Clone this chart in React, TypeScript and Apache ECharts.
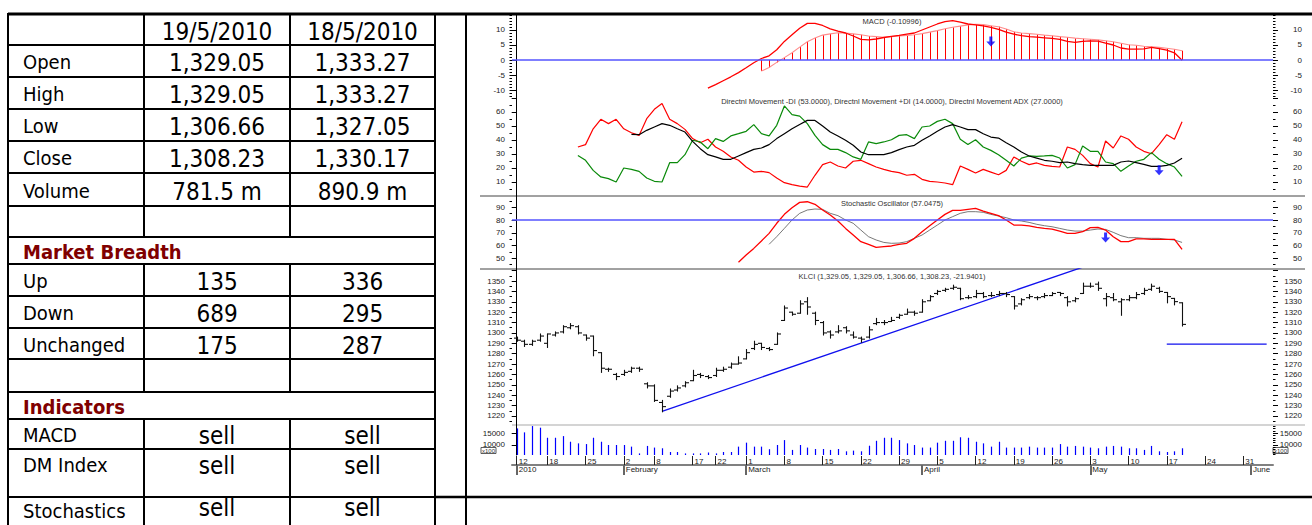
import React, { useEffect, useRef } from 'react';
import * as echarts from 'echarts';

// ---------------- table data ----------------
const tableDates = ['19/5/2010', '18/5/2010'];
const priceLabels = ['Open', 'High', 'Low', 'Close', 'Volume'];
const price19 = ['1,329.05', '1,329.05', '1,306.66', '1,308.23', '781.5 m'];
const price18 = ['1,333.27', '1,333.27', '1,327.05', '1,330.17', '890.9 m'];
const breadthTitle = 'Market Breadth';
const breadthLabels = ['Up', 'Down', 'Unchanged'];
const breadth19 = ['135', '689', '175'];
const breadth18 = ['336', '295', '287'];
const indicatorTitle = 'Indicators';
const indicatorLabels = ['MACD', 'DM Index', 'Stochastics'];
const indicator19 = ['sell', 'sell', 'sell'];
const indicator18 = ['sell', 'sell', 'sell'];

// ---------------- x axis (trading-day index) ----------------
const dayTickIdx = [0, 4, 9, 14, 18, 23, 26, 30, 35, 40, 45, 50, 55, 60, 65, 70, 75, 80, 85, 90, 95];
const dayTickLbl = ['12', '18', '25', '2', '8', '17', '22', '1', '8', '15', '22', '29', '5', '12', '19', '26', '3', '10', '17', '24', '31'];
const monthTickIdx = [0, 14, 30, 53, 75, 96];
const monthTickLbl = ['2010', 'February', 'March', 'April', 'May', 'June'];

// ---------------- KLCI OHLC (index 0 = 12 Jan 2010) ----------------
const klciOpen = [1295, 1292, 1289, 1293, 1290, 1298, 1301, 1305, 1306, 1298, 1297, 1281, 1265, 1260, 1260, 1263, 1266, 1251, 1249, 1233, 1239, 1245, 1249, 1254, 1260, 1258, 1259, 1264, 1267, 1270, 1275, 1285, 1290, 1285, 1289, 1312, 1320, 1319, 1330, 1319, 1310, 1301, 1301, 1305, 1298, 1295, 1296, 1309, 1310, 1311, 1315, 1318, 1320, 1320, 1331, 1338, 1341, 1343, 1343, 1334, 1335, 1338, 1336, 1337, 1338, 1335, 1328, 1334, 1334, 1335, 1336, 1339, 1334, 1331, 1338, 1345, 1347, 1333, 1334, 1330, 1332, 1334, 1338, 1342, 1343, 1339, 1333.27, 1329.05];
const klciHigh = [1296, 1293, 1293, 1299, 1299, 1301, 1307, 1309, 1307, 1298, 1297, 1281, 1266, 1261, 1264, 1267, 1267, 1252, 1250, 1235, 1246, 1249, 1253, 1264, 1261, 1259, 1266, 1267, 1271, 1277, 1284, 1292, 1290, 1286, 1300, 1326, 1320, 1331, 1334, 1320, 1311, 1302, 1307, 1306, 1301, 1296, 1306, 1314, 1312, 1315, 1318, 1323, 1321, 1332, 1336, 1341, 1343, 1346, 1343, 1336, 1341, 1339, 1339, 1340, 1339, 1335, 1333, 1337, 1335, 1338, 1339, 1339, 1335, 1334, 1348, 1348, 1349, 1338, 1338, 1333, 1336, 1339, 1343, 1347, 1344, 1339, 1333.27, 1329.05];
const klciLow = [1292, 1287, 1288, 1292, 1286, 1297, 1300, 1304, 1299, 1293, 1278, 1262, 1263, 1255, 1259, 1262, 1263, 1247, 1234, 1224, 1238, 1244, 1248, 1254, 1257, 1256, 1258, 1263, 1266, 1270, 1275, 1284, 1284, 1283, 1289, 1312, 1317, 1319, 1318, 1308, 1298, 1295, 1300, 1300, 1295, 1291, 1295, 1308, 1308, 1311, 1314, 1318, 1317, 1320, 1331, 1337, 1340, 1342, 1332, 1333, 1334, 1334, 1335, 1336, 1335, 1323, 1327, 1333, 1332, 1334, 1336, 1336, 1326, 1330, 1338, 1344, 1341, 1326, 1331, 1317, 1331, 1333, 1337, 1341, 1339, 1329, 1327.05, 1306.66];
const klciClose = [1293, 1289, 1292, 1297, 1299, 1300, 1306, 1307, 1300, 1295, 1283, 1266, 1265, 1258, 1262, 1266, 1265, 1249, 1235, 1229, 1244, 1247, 1252, 1259, 1259, 1257, 1264, 1265, 1270, 1271, 1281, 1289, 1286, 1284, 1299, 1324, 1318, 1328, 1325, 1312, 1300, 1298, 1302, 1302, 1296, 1294, 1303, 1310, 1310, 1312, 1317, 1320, 1319, 1330, 1335, 1340, 1342, 1344, 1333, 1334, 1338, 1335, 1336, 1338, 1337, 1326, 1332, 1335, 1334, 1336, 1338, 1338, 1330, 1333, 1345, 1345, 1343, 1335, 1332, 1332, 1334, 1337, 1341, 1345, 1340, 1335, 1330.17, 1308.23];
// volume (x100)
const volume = [17100, 15400, 18100, 17400, 13100, 13100, 13800, 11400, 10700, 10400, 13100, 11400, 10000, 10000, 10000, 9300, 6400, 9600, 8900, 8600, 7000, 7000, 6400, 6400, 6400, 6800, 6400, 7000, 7000, 9300, 11000, 9300, 9300, 8200, 10000, 12100, 7900, 10000, 8900, 8300, 8300, 7900, 8300, 7300, 7600, 7300, 9700, 11800, 13100, 13100, 12100, 10700, 10000, 8900, 8900, 11000, 11800, 11800, 13300, 13100, 11400, 10700, 9300, 11400, 8900, 8900, 8900, 9300, 8900, 8900, 8900, 10400, 9300, 9600, 9300, 8900, 8600, 9300, 9600, 9300, 8600, 8600, 7900, 9600, 7300, 7000, 7300, 8600];

// ---------------- MACD ----------------
const macdStart = 25;
const macdLine = [-9.4, -8.2, -6.9, -5.6, -4.2, -2.6, -0.9, 0.5, 1.4, 3.4, 6.2, 8.4, 10.6, 12.2, 12.2, 11.5, 10.4, 9.6, 9.0, 8.0, 6.9, 6.7, 7.0, 7.5, 7.9, 8.2, 8.6, 9.0, 10.0, 11.0, 12.0, 12.8, 13.1, 12.6, 12.0, 11.7, 11.4, 10.9, 10.2, 9.3, 8.6, 8.1, 7.8, 7.6, 7.4, 7.2, 6.9, 6.2, 5.9, 6.2, 6.4, 6.3, 5.6, 5.0, 4.0, 3.6, 3.6, 3.7, 4.2, 3.8, 3.3, 2.4, -0.11];
const signalStart = 32;
const signalLine = [-3.7, -2.5, -0.8, 0.8, 2.4, 4.3, 6.1, 7.3, 8.3, 8.7, 9.1, 9.0, 8.7, 8.4, 8.0, 7.8, 7.6, 7.8, 8.0, 8.2, 8.4, 8.8, 9.3, 9.8, 10.4, 10.9, 11.3, 11.7, 11.9, 11.8, 11.4, 11.1, 10.3, 9.4, 9.0, 8.8, 8.6, 8.3, 8.1, 7.8, 7.6, 7.3, 7.1, 6.9, 6.7, 6.4, 6.1, 5.6, 5.1, 4.9, 4.6, 4.4, 4.2, 3.9, 3.6, 3.1];

// ---------------- Directional movement ----------------
const dmiStart = 8;
const minusDI = [35, 36.7, 48, 54.8, 51.7, 54.8, 48, 45.2, 43.3, 55.2, 61.9, 66, 54.8, 51.7, 47.6, 41, 38, 40.5, 35, 31.9, 27.9, 25.5, 20.7, 17.1, 17.6, 16.7, 12.9, 9.5, 8.1, 7.1, 6.4, 14.8, 22.4, 24.3, 21.4, 20, 24.8, 25.5, 23.1, 20.7, 19, 17.6, 16.7, 14.8, 15.5, 11.9, 10.5, 10, 9.3, 8.1, 21.4, 19, 16.4, 19, 17.1, 15.2, 18.3, 27.9, 24.8, 22.4, 23.6, 21.9, 21.2, 20.7, 35, 33.3, 29, 23.1, 20.7, 39.3, 34.3, 42.9, 40.5, 35, 31.9, 30.2, 36.7, 43.8, 40.5, 53];
const plusDI = [29, 25.5, 18.3, 13.6, 12.4, 10, 20, 19, 17.6, 12.9, 10.5, 10, 23.8, 23.8, 29.5, 39.8, 38.6, 33.8, 41, 39, 42.9, 44.5, 46.2, 51, 44.5, 42.9, 50.5, 64.3, 58.1, 57.1, 51.7, 43.3, 36.7, 33.3, 33.3, 31, 27.9, 26.2, 38.6, 37.4, 38.6, 40.2, 43.3, 43.8, 41, 49.3, 50, 53.3, 54.8, 51.7, 40.5, 36.7, 40.2, 35, 32.6, 29.5, 25.5, 21.4, 27.1, 28.6, 28.3, 28.6, 29, 27.1, 20, 22.4, 35.7, 31.9, 31.9, 24.3, 23.1, 17.6, 21.4, 24.8, 26.2, 31, 26.2, 23.1, 20.7, 14];
const adxStart = 15;
const adx = [44, 43.8, 46.9, 49.3, 51.7, 50.5, 48, 45.7, 39, 33.8, 29.5, 27.9, 26.2, 26.2, 28.6, 31, 33.3, 34.3, 36.7, 41, 44.5, 48, 51, 54, 54, 50, 45.7, 42.9, 39.8, 36.2, 31.4, 29.5, 29.5, 29.5, 31, 33.1, 35, 36.2, 39.8, 42.9, 46.2, 49.3, 51, 49.3, 47.4, 47.4, 44.5, 42.1, 41.4, 38.1, 35, 31.4, 28.6, 27.1, 25.5, 24.8, 23.8, 24.3, 23.1, 22.4, 21.9, 21.9, 21.9, 21.9, 24.3, 25, 23.8, 22.6, 21.2, 21.2, 21.9, 23.6, 27];

// ---------------- Stochastic ----------------
const stochKStart = 29;
const stochK = [46.9, 52.6, 57.8, 63.6, 69.6, 77.5, 84.5, 89.7, 93.9, 94.4, 92.4, 87.9, 84, 79.3, 73.5, 68.3, 63.1, 61, 58.6, 59.2, 59.7, 61, 61.8, 65.7, 70.9, 75.6, 80.1, 84.5, 87.6, 87.6, 88.4, 89.2, 87.1, 85.3, 83.5, 80.1, 76.1, 76.1, 75.4, 74.3, 73.5, 73, 71.4, 69.6, 69.6, 70.9, 74.1, 74.3, 72.2, 67, 63.1, 63.1, 65.2, 65.2, 64.9, 64.9, 64.9, 64.9, 57.05];
const stochDStart = 33;
const stochD = [61, 67, 73.5, 80.1, 85.3, 87.9, 88.7, 88.4, 85.3, 83.5, 80.1, 77.5, 72.2, 67, 64.4, 62.5, 61.8, 62, 63.1, 65.7, 68.3, 72.2, 76.1, 80.1, 82.7, 85.3, 86.6, 86.6, 86.1, 84.5, 83.2, 81.9, 80.1, 79.3, 78.2, 76.7, 75.6, 74.8, 73.5, 72.2, 71.4, 71.4, 72.2, 73, 72.7, 70.4, 67.8, 66.2, 66.2, 65.7, 65.7, 65.7, 64.9, 64.4, 62.5];

// ---------------- annotations ----------------
const macdArrow = [62, 6.2];
const dmiArrow = [84, 18.4];
const stochArrow = [77, 66.4];
const trendX = [19, 80];
const trendY = [1224.5, 1378.5];
const supportX = [85, 98.06];
const supportY = 1289.3;
const macdLevel = 0;
const stochLevel = 80;

// ---------------- axis ticks ----------------
const macdTicks = [-10, -5, 0, 5, 10];
const macdMinor = [-12, -11, -10, -9, -8, -7, -6, -5, -4, -3, -2, -1, 0, 1, 2, 3, 4, 5, 6, 7, 8, 9, 10, 11, 12, 13, 14, 15];
const dmiTicks = [10, 20, 30, 40, 50, 60, 70];
const dmiLabels = [10, 20, 30, 40, 50, 60];
const dmiMinor = [5, 15, 25, 35, 45, 55, 65];
const stochTicks = [50, 60, 70, 80, 90];
const stochMinor = [45, 55, 65, 75, 85, 95];
const klciTicks = [1220, 1230, 1240, 1250, 1260, 1270, 1280, 1290, 1300, 1310, 1320, 1330, 1340, 1350, 1360];
const klciLabels = [1220, 1230, 1240, 1250, 1260, 1270, 1280, 1290, 1300, 1310, 1320, 1330, 1340, 1350];
const klciMinor = [1215, 1225, 1235, 1245, 1255, 1265, 1275, 1285, 1295, 1305, 1315, 1325, 1335, 1345, 1355];
const volTicks = [10000, 15000];
const volMinor = [6000, 7000, 8000, 9000, 10000, 11000, 12000, 13000, 14000, 15000, 16000, 17000, 18000];

const macdTitle = 'MACD (-0.10996)';
const dmiTitle = 'Directnl Movement -DI (53.0000), Directnl Movement +DI (14.0000), Directnl Movement ADX (27.0000)';
const stochTitle = 'Stochastic Oscillator (57.0475)';
const klciTitle = 'KLCI (1,329.05, 1,329.05, 1,306.66, 1,308.23, -21.9401)';

// ---------------- layout ----------------
const CFONT = "'Liberation Sans', Arial, sans-serif";
const TFONT = "'DejaVu Sans Condensed', 'DejaVu Sans', sans-serif";
const PLOT_L = 512;
const PLOT_W = 761;
const IDX_MIN = -0.6146;
const IDX_MAX = 98.89;
const panels = [
  { top: 14, height: 83, min: -12.33, max: 15.33 },
  { top: 97, height: 99, min: 0, max: 70.71 },
  { top: 196, height: 73, min: 41.65, max: 98.9 },
  { top: 269, height: 156, min: 1211.3, max: 1361.6 },
  { top: 425, height: 30, min: 5726, max: 18547 },
];
const ARROW = 'path://M3,0L6,0L6,5L9,5L4.5,10L0,5L3,5Z';

const pairs = (start: number, arr: number[]) => arr.map((v, k) => [start + k, v]);

function panelAxes(g: number, p: any, ticks: number[], labels: number[], minorL: number[], minorR: number[]) {
  const base: any = { gridIndex: g, type: 'value', min: p.min, max: p.max, splitLine: { show: false } };
  const lbl: any = { fontSize: 8, color: '#222', fontFamily: CFONT, hideOverlap: false, formatter: (v: number) => String(v) };
  return [
    { ...base, position: 'left', axisLine: { show: true, lineStyle: { color: '#000', width: 1 } },
      axisTick: { show: true, customValues: ticks, length: 5, lineStyle: { color: '#000', width: 1 } },
      axisLabel: { ...lbl, show: true, customValues: labels, margin: 7 } },
    { ...base, position: 'left', axisLine: { show: false },
      axisTick: { show: minorL.length > 0, customValues: minorL, length: 2.5, lineStyle: { color: '#000', width: 1 } },
      axisLabel: { show: false } },
    { ...base, position: 'right', axisLine: { show: false },
      axisTick: { show: true, customValues: ticks, length: 5, lineStyle: { color: '#000', width: 1 } },
      axisLabel: { ...lbl, show: true, customValues: labels, margin: 29, align: 'right' } },
    { ...base, position: 'right', axisLine: { show: false },
      axisTick: { show: true, customValues: minorR, length: 2.5, lineStyle: { color: '#000', width: 1 } },
      axisLabel: { show: false } },
  ];
}

function tableGraphics() {
  const els: any[] = [];
  const rowLines = [14, 45, 77, 109, 141, 173, 206, 237, 264, 296, 328, 359, 392, 419, 449, 497, 540];
  const colX = [8, 144, 290, 435];
  const rows: any[] = [];
  rows.push({ label: '', v: [tableDates[0], tableDates[1]] });
  priceLabels.forEach((l, k) => rows.push({ label: l, v: [price19[k], price18[k]] }));
  rows.push({ label: '', v: ['', ''] });
  rows.push({ label: breadthTitle, full: true });
  breadthLabels.forEach((l, k) => rows.push({ label: l, v: [breadth19[k], breadth18[k]] }));
  rows.push({ label: '', v: ['', ''] });
  rows.push({ label: indicatorTitle, full: true });
  indicatorLabels.forEach((l, k) => rows.push({ label: l, v: [indicator19[k], indicator18[k]], topText: l !== 'MACD' }));
  const ln = (x1: number, y1: number, x2: number, y2: number, w = 2, c = '#000') => ({
    type: 'line', silent: true, shape: { x1, y1, x2, y2 }, style: { stroke: c, lineWidth: w },
  });
  rows.forEach((r, i) => {
    const t = rowLines[i];
    const b = rowLines[i + 1];
    const last = i === rows.length - 1;
    const y = last ? t + 14 : r.topText ? t + 16 : (t + b) / 2 + 1.5;
    if (!r.full) {
      els.push(ln(colX[1], t, colX[1], Math.min(b, 525)));
      els.push(ln(colX[2], t, colX[2], Math.min(b, 525)));
    }
    if (r.label) {
      els.push({ type: 'text', silent: true, x: 23, y: y - 0.5, style: {
        text: r.label, fill: r.full ? '#800000' : '#000', fontSize: 20, fontFamily: TFONT,
        fontWeight: r.full ? 'bold' : 'normal', align: 'left', verticalAlign: 'middle' } });
    }
    if (r.v) {
      r.v.forEach((s: string, k: number) => {
        if (!s) return;
        els.push({ type: 'text', silent: true, x: (colX[k + 1] + colX[k + 2]) / 2, y: last ? y - 3 : y + 0.5, style: {
          text: s, fill: '#000', fontSize: 24, fontFamily: TFONT, align: 'center', verticalAlign: 'middle' } });
      });
    }
  });
  rowLines.slice(0, -1).forEach((y) => els.push(ln(8, y, 435, y)));
  els.push(ln(8, 14, 1312, 14, 3));
  els.push(ln(435, 497, 1312, 497, 2.5));
  els.push(ln(8, 13, 8, 525));
  els.push(ln(435, 13, 435, 525));
  els.push(ln(466, 13, 466, 525));
  return els;
}

function chartGraphics() {
  const els: any[] = [];
  const ln = (x1: number, y1: number, x2: number, y2: number, w: number, c: string) => ({
    type: 'line', silent: true, shape: { x1, y1, x2, y2 }, style: { stroke: c, lineWidth: w },
  });
  els.push(ln(480, 196, 1305, 196, 1, '#444'));
  els.push(ln(480, 269, 1305, 269, 1, '#444'));
  els.push(ln(512, 425, 1305, 425, 1.2, '#aaa'));
  const title = (text: string, y: number) => ({
    type: 'text', silent: true, x: 892, y, z: 10,
    style: { text, fill: '#333', fontSize: 7.5, fontFamily: CFONT, align: 'center', verticalAlign: 'middle' },
  });
  els.push(title(macdTitle, 21.5));
  els.push(title(dmiTitle, 101.5));
  els.push(title(stochTitle, 203.5));
  els.push(title(klciTitle, 276.5));
  const box = (x: number, y: number) => ({
    type: 'text', silent: true, x, y,
    style: { text: 'x100', fill: '#333', fontSize: 6, fontFamily: CFONT, align: 'center', verticalAlign: 'middle',
      borderColor: '#333', borderWidth: 0.8, padding: [0, 1, 0, 1] },
  });
  els.push(box(488.5, 450.5));
  els.push(box(1280.5, 450.5));
  return els;
}

function buildOption(): any {
  const grids = panels.map((p) => ({ left: PLOT_L, width: PLOT_W, top: p.top, height: p.height, outerBoundsMode: 'none' }));
  grids.push({ left: PLOT_L, width: PLOT_W, top: 455, height: 10, outerBoundsMode: 'none' } as any);

  const xAxes: any[] = panels.map((_, g) => ({ gridIndex: g, type: 'value', min: IDX_MIN, max: IDX_MAX, show: false }));
  xAxes.push({
    gridIndex: 5, type: 'value', min: IDX_MIN, max: IDX_MAX, position: 'bottom',
    axisLine: { show: true, lineStyle: { color: '#808080', width: 2 } },
    axisTick: { show: true, inside: true, length: 9, customValues: dayTickIdx, lineStyle: { color: '#222', width: 1 } },
    axisLabel: { show: true, inside: true, customValues: dayTickIdx, formatter: (v: number) => dayTickLbl[dayTickIdx.indexOf(v)] || '',
      align: 'left', verticalAlign: 'bottom', margin: 0, padding: [0, 0, 0, 2], fontSize: 8, color: '#222', fontFamily: CFONT, hideOverlap: false },
    splitLine: { show: false },
  });
  xAxes.push({
    gridIndex: 5, type: 'value', min: IDX_MIN, max: IDX_MAX, position: 'bottom',
    axisLine: { show: false },
    axisTick: { show: true, inside: false, length: 10, customValues: monthTickIdx, lineStyle: { color: '#666', width: 2 } },
    axisLabel: { show: true, customValues: monthTickIdx, formatter: (v: number) => monthTickLbl[monthTickIdx.indexOf(v)] || '',
      align: 'left', verticalAlign: 'top', margin: 0, padding: [0, 0, 0, 2], fontSize: 8, color: '#222', fontFamily: CFONT, hideOverlap: false },
    splitLine: { show: false },
  });

  const yAxes: any[] = [
    ...panelAxes(0, panels[0], macdTicks, macdTicks, macdMinor, macdMinor),
    ...panelAxes(1, panels[1], dmiTicks, dmiLabels, dmiMinor, dmiMinor),
    ...panelAxes(2, panels[2], stochTicks, stochTicks, stochMinor, stochMinor),
    ...panelAxes(3, panels[3], klciTicks, klciLabels, klciMinor, klciMinor),
    ...panelAxes(4, panels[4], volTicks, volTicks, [], volMinor),
    { gridIndex: 5, type: 'value', show: false },
  ];

  const line = (name: string, g: number, data: any[], color: string, width: number, extra: any = {}) => ({
    name, type: 'line', xAxisIndex: g, yAxisIndex: g * 4, data, symbol: 'none', showSymbol: false,
    lineStyle: { color, width }, itemStyle: { color }, clip: true, silent: true, z: 3, ...extra,
  });
  const arrow = (g: number, pt: number[]) => ({
    type: 'scatter', xAxisIndex: g, yAxisIndex: g * 4, data: [pt], symbol: ARROW, symbolSize: [9, 10],
    itemStyle: { color: '#0000ff' }, silent: true, z: 6,
  });
  const level = (v: number) => ({
    silent: true, symbol: ['none', 'none'], label: { show: false },
    lineStyle: { color: '#5555ff', width: 1.6, type: 'solid' }, data: [{ yAxis: v }],
  });

  const ohlc = klciOpen.map((o, i) => [i, o, klciHigh[i], klciLow[i], klciClose[i]]);
  const vols = volume.map((v, i) => [i, v]);
  const hist = pairs(signalStart, signalLine);

  const series: any[] = [
    {
      type: 'custom', xAxisIndex: 3, yAxisIndex: 12, data: ohlc, clip: true, silent: true, z: 4,
      encode: { x: 0, y: [1, 2, 3, 4] },
      renderItem: (params: any, api: any) => {
        const i = api.value(0);
        const ph = api.coord([i, api.value(2)]);
        const pl = api.coord([i, api.value(3)]);
        const po = api.coord([i, api.value(1)]);
        const pc = api.coord([i, api.value(4)]);
        const x = Math.round(ph[0]) + 0.5;
        const st = { stroke: '#111', lineWidth: 1.1 };
        return {
          type: 'group', children: [
            { type: 'line', shape: { x1: x, y1: ph[1] - 0.5, x2: x, y2: pl[1] + 0.5 }, style: st },
            { type: 'line', shape: { x1: x - 3.5, y1: po[1], x2: x, y2: po[1] }, style: st },
            { type: 'line', shape: { x1: x, y1: pc[1], x2: x + 3.5, y2: pc[1] }, style: st },
          ],
        };
      },
    },
    line('trend', 3, trendX.map((x, k) => [x, trendY[k]]), '#1010ee', 1.3),
    line('support', 3, supportX.map((x) => [x, supportY]), '#1010ee', 1.3),
    {
      type: 'custom', xAxisIndex: 4, yAxisIndex: 16, data: vols, clip: true, silent: true, z: 3,
      renderItem: (params: any, api: any) => {
        const p = api.coord([api.value(0), api.value(1)]);
        const cs = params.coordSys;
        const x = Math.round(p[0]) + 0.5;
        return { type: 'line', shape: { x1: x, y1: p[1], x2: x, y2: cs.y + cs.height }, style: { stroke: '#0000ff', lineWidth: 1.2 } };
      },
    },
    {
      type: 'custom', xAxisIndex: 0, yAxisIndex: 0, data: hist, clip: true, silent: true, z: 3,
      renderItem: (params: any, api: any) => {
        const p = api.coord([api.value(0), api.value(1)]);
        const z0 = api.coord([api.value(0), 0]);
        const x = Math.round(p[0]) + 0.5;
        return { type: 'line', shape: { x1: x, y1: p[1], x2: x, y2: z0[1] }, style: { stroke: '#ff0000', lineWidth: 1 } };
      },
    },
    line('MACD', 0, pairs(macdStart, macdLine), '#ff0000', 1.3, { markLine: level(macdLevel), z: 4 }),
    line('Signal', 0, pairs(signalStart, signalLine), '#ff8c8c', 1.1),
    arrow(0, macdArrow),
    line('-DI', 1, pairs(dmiStart, minusDI), '#ff0000', 1.2),
    line('+DI', 1, pairs(dmiStart, plusDI), '#0a8a0a', 1.2),
    line('ADX', 1, pairs(adxStart, adx), '#000000', 1.2),
    arrow(1, dmiArrow),
    line('%K', 2, pairs(stochKStart, stochK), '#ff0000', 1.3, { markLine: level(stochLevel), z: 4 }),
    line('%D', 2, pairs(stochDStart, stochD), '#555555', 0.8),
    arrow(2, stochArrow),
  ];

  return {
    animation: false,
    backgroundColor: '#ffffff',
    grid: grids,
    xAxis: xAxes,
    yAxis: yAxes,
    series,
    graphic: { elements: [...tableGraphics(), ...chartGraphics()] },
  };
}

export default function App() {
  const ref = useRef<HTMLDivElement>(null);
  useEffect(() => {
    const chart = echarts.init(ref.current as HTMLDivElement, null, { renderer: 'svg' });
    chart.setOption(buildOption());
    return () => chart.dispose();
  }, []);
  return (
    <div
      ref={ref}
      style={{ position: 'fixed', left: 0, top: 0, width: 1312, height: 525, background: '#fff' }}
    />
  );
}
